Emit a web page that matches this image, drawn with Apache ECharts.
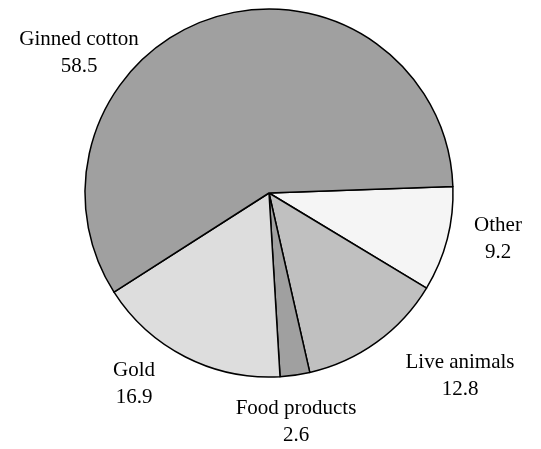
<!DOCTYPE html>
<html><head><meta charset="utf-8">
<script src="https://cdn.jsdelivr.net/npm/echarts@6/dist/echarts.min.js"></script>
<style>html,body{margin:0;padding:0;background:#fff}#c{width:541px;height:449px}</style>
</head><body><div id="c"></div>
<script>
const categories = ['Other', 'Live animals', 'Food products', 'Gold', 'Ginned cotton'];
const values = [9.2, 12.8, 2.6, 16.9, 58.5];
const colors = ['#f5f5f5', '#c0c0c0', '#a0a0a0', '#dddddd', '#a0a0a0'];
const labelPos = [[498, 239], [460, 376], [296, 422], [134, 384], [79, 53]];

const chart = echarts.init(document.getElementById('c'));
chart.setOption({
  animation: false,
  series: [{
    type: 'pie',
    center: [269, 193],
    radius: 184,
    startAngle: 2,
    clockwise: true,
    data: categories.map((n, i) => ({ name: n, value: values[i], itemStyle: { color: colors[i] } })),
    itemStyle: { borderColor: '#000', borderWidth: 1.5 },
    label: {
      show: true,
      formatter: '{b}\n{c}',
      fontFamily: 'Liberation Serif',
      fontSize: 21,
      lineHeight: 27,
      color: '#000',
      align: 'center',
      overflow: 'none',
      alignTo: 'none'
    },
    labelLine: { show: false },
    labelLayout: function (p) {
      const pos = labelPos[p.dataIndex];
      return { x: pos[0], y: pos[1], align: 'center', verticalAlign: 'middle' };
    },
    emphasis: { disabled: true }
  }]
});
</script></body></html>
